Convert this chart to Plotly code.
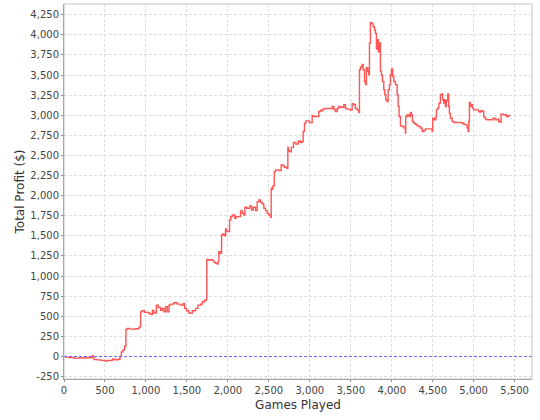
import plotly.graph_objects as go

# Games played (x) and cumulative total profit in $ (y)
games = [
    0, 20, 60, 122, 180, 244, 300, 326, 340, 346, 352, 366, 400, 450, 488, 509, 530, 560,
    590, 610, 630, 660, 683, 700, 715, 724, 740, 756, 770, 800, 850, 880, 915, 935, 950,
    980, 1004, 1037, 1057, 1078, 1098, 1127, 1151, 1179, 1200, 1220, 1240, 1261, 1281,
    1301, 1341, 1383, 1423, 1456, 1472, 1496, 1524, 1566, 1606, 1634, 1667, 1688, 1716,
    1736, 1742, 1760, 1790, 1810, 1830, 1850, 1871, 1880, 1890, 1905, 1923, 1935, 1950,
    1960, 1972, 1985, 2010, 2021, 2035, 2054, 2070, 2085, 2100, 2140, 2155, 2175, 2195,
    2208, 2230, 2268, 2290, 2310, 2338, 2358, 2378, 2398, 2418, 2439, 2460, 2480, 2500,
    2521, 2529, 2541, 2549, 2566, 2582, 2620, 2643, 2651, 2675, 2692, 2716, 2732, 2740,
    2750, 2765, 2775, 2800, 2830, 2860, 2887, 2900, 2919, 2935, 2950, 2980, 2995, 3029,
    3050, 3080, 3110, 3130, 3150, 3160, 3180, 3230, 3273, 3293, 3313, 3334, 3354, 3380,
    3415, 3435, 3456, 3496, 3517, 3537, 3557, 3578, 3598, 3606, 3618, 3639, 3651, 3667,
    3679, 3691, 3708, 3720, 3728, 3740, 3752, 3773, 3789, 3801, 3813, 3826, 3838, 3846,
    3862, 3874, 3887, 3903, 3915, 3927, 3944, 3956, 3972, 3984, 3996, 4012, 4025, 4045,
    4066, 4078, 4090, 4106, 4127, 4150, 4167, 4171, 4190, 4210, 4228, 4240, 4252, 4270,
    4290, 4310, 4330, 4350, 4371, 4391, 4411, 4450, 4493, 4500, 4520, 4540, 4545, 4560,
    4575, 4594, 4606, 4622, 4635, 4647, 4655, 4667, 4683, 4695, 4704, 4716, 4737, 4760,
    4838, 4858, 4879, 4899, 4920, 4932, 4940, 4948, 4960, 4972, 4985, 5000, 5040, 5060,
    5073, 5090, 5110, 5122, 5143, 5163, 5220, 5237, 5265, 5285, 5305, 5326, 5334, 5360,
    5375, 5399, 5420, 5439,
]
profit = [
    0, -8, -12, -20, -18, -15, -12, -15, -10, 12, -5, -37, -42, -48, -50, -58, -50, -48,
    -30, -38, -40, -35, 0, 57, 70, 80, 130, 336, 350, 340, 342, 345, 365, 555, 568,
    548, 548, 535, 523, 573, 540, 639, 610, 573, 598, 556, 620, 556, 639,
    651, 668, 651, 639, 660, 598, 568, 540, 568, 598, 639, 651, 681, 700,
    710, 1208, 1200, 1205, 1195, 1170, 1160, 1150, 1180, 1303, 1282, 1511, 1523, 1510,
    1500, 1585, 1553, 1553, 1697, 1739, 1760, 1760, 1718, 1739, 1739, 1810, 1780, 1760,
    1855, 1843, 1872, 1822, 1855, 1814, 1926, 1946, 1917, 1896, 1843, 1810, 1780, 1760,
    1731, 2092, 2080, 2121, 2299, 2320, 2312, 2312, 2382, 2370, 2353, 2341, 2600, 2560,
    2550, 2545, 2600, 2660, 2640, 2680, 2660, 2670, 2797, 2901, 2930, 2930, 2909, 2993,
    2984, 2984, 3046, 3063, 3055, 3076, 3084, 3084, 3108, 3071, 3046, 3084, 3108, 3100,
    3130, 3084, 3076, 3063, 3142, 3130, 3084, 3063, 3034, 3565, 3599, 3630, 3565, 3420,
    3380, 3590, 3545, 3503, 3898, 4154, 4140, 4100, 4060, 4020, 3823, 3940, 3790, 3898,
    3545, 3500, 3420, 3316, 3254, 3192, 3170, 3316, 3380, 3503, 3574, 3482, 3420, 3380,
    3254, 3108, 2984, 2868, 2860, 2840, 2777, 2984, 3005, 2984, 3034, 3005, 2922, 2901,
    2888, 2868, 2860, 2839, 2797, 2810, 2830, 2830, 2797, 2963, 2943, 2976, 3067, 3088,
    3150, 3254, 3266, 3192, 3150, 3192, 3108, 3183, 3266, 3108, 3025, 2963, 2922, 2909,
    2909, 2901, 2888, 2880, 2839, 2797, 2922, 3158, 3108, 3130, 3088, 3067, 3067, 3046,
    3038, 3055, 3046, 2976, 2951, 2943, 2943, 2963, 2943, 2951, 2922, 2913, 3013, 3005,
    3005, 2984, 2993, 3005,
]

x_ticks = [0, 500, 1000, 1500, 2000, 2500, 3000, 3500, 4000, 4500, 5000, 5500]
y_ticks = [-250, 0, 250, 500, 750, 1000, 1250, 1500, 1750, 2000, 2250, 2500, 2750,
           3000, 3250, 3500, 3750, 4000, 4250]
x_range = [0, 5712]
y_range = [-280, 4383]

fig = go.Figure()
fig.add_trace(go.Scatter(
    x=games, y=profit, mode="lines", line=dict(color="#FF5555", width=1.4, shape="hv"),
    hoverinfo="skip", showlegend=False,
))

# zero reference line (blue dashed)
fig.add_hline(y=0, line=dict(color="#6666FF", width=1, dash="3px,2px"), layer="above")

# plot border (light gray, top/right)
fig.add_shape(type="rect", xref="paper", yref="paper", x0=0, y0=0, x1=1, y1=1,
              line=dict(color="#C4C4C4", width=1), layer="above")

tick_font = dict(family="DejaVu Sans", size=10, color="#444444")
grid = dict(showgrid=True, gridcolor="#DEDEDE", gridwidth=1, griddash="3px,2px",
            zeroline=False, showline=True, linecolor="#8A8A8A", linewidth=1,
            ticks="outside", ticklen=2, tickcolor="#8A8A8A", tickfont=tick_font)

fig.update_xaxes(
    range=x_range, tickvals=x_ticks, ticktext=[f"{v:,}" for v in x_ticks],
    title=dict(text="Games Played", font=dict(family="DejaVu Sans", size=12, color="#333333"),
               standoff=5),
    **grid,
)
fig.update_yaxes(
    range=y_range, tickvals=y_ticks, ticktext=[f"{v:,}" for v in y_ticks],
    title=dict(text="Total Profit ($)", font=dict(family="DejaVu Sans", size=12, color="#333333"),
               standoff=3),
    **grid,
)

fig.update_layout(
    width=540, height=420,
    margin=dict(l=64, r=8, t=4, b=41, autoexpand=False),
    paper_bgcolor="white", plot_bgcolor="white",
)

fig.write_html(
    "out.html",
    config={"displayModeBar": False, "staticPlot": True},
    post_script="document.body.style.margin='0';document.body.style.overflow='hidden';",
)
